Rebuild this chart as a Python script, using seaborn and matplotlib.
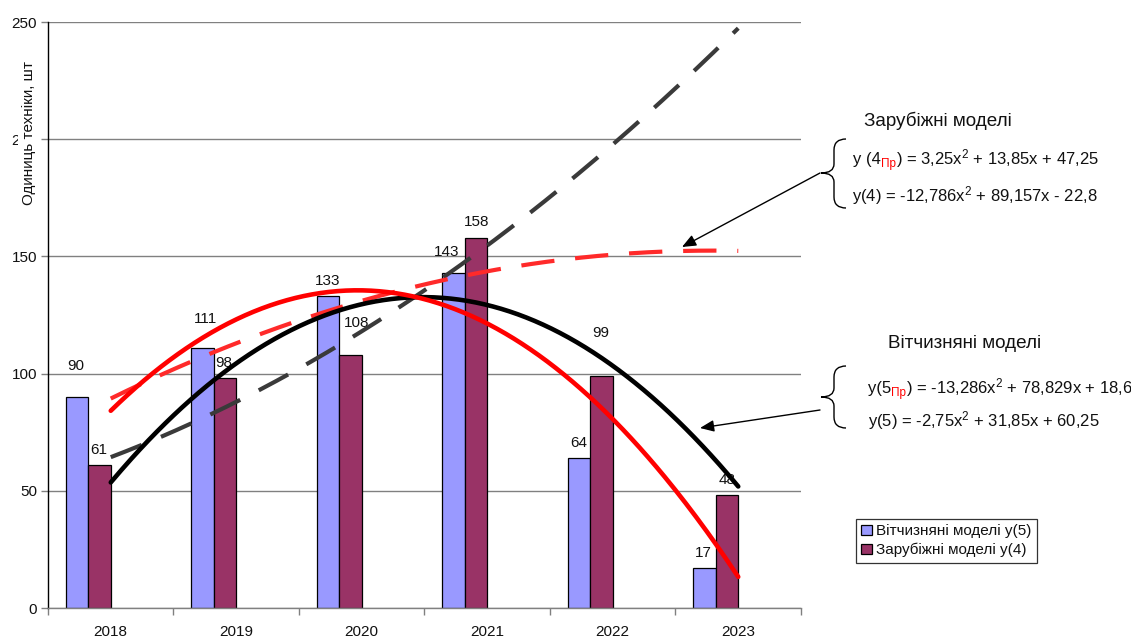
import numpy as np
import pandas as pd
import matplotlib
matplotlib.use("Agg")
import matplotlib.pyplot as plt
from matplotlib.path import Path
from matplotlib.patches import PathPatch, Patch
import seaborn as sns

# ---- data -------------------------------------------------------------
years = ["2018", "2019", "2020", "2021", "2022", "2023"]
domestic = [90, 111, 133, 143, 64, 17]      # Вітчизняні моделі y(5)
foreign = [61, 98, 108, 158, 99, 48]        # Зарубіжні моделі y(4)

# quadratic trend coefficients [a, b, c] of y = a*x^2 + b*x + c, x = 1..6
coef_4pr = [3.25, 13.85, 47.25]
coef_4 = [-12.786, 89.157, -22.8]
coef_5pr = [-13.286, 78.829, 18.6]
coef_5 = [-2.75, 31.85, 60.25]

lab_dom = "Вітчизняні моделі y(5)"
lab_for = "Зарубіжні моделі y(4)"

# ---- style ------------------------------------------------------------
sns.set_theme(style="white")
plt.rcParams["font.family"] = ["Liberation Sans", "DejaVu Sans"]
plt.rcParams["mathtext.fontset"] = "custom"
plt.rcParams["mathtext.rm"] = "Liberation Sans"
plt.rcParams["mathtext.it"] = "Liberation Sans"
plt.rcParams["mathtext.bf"] = "Liberation Sans"

W, H = 1131, 639
C_DOM = "#9999FF"
C_FOR = "#993366"
GRID = "#808080"
TXT = "#111111"

fig = plt.figure(figsize=(W / 100, H / 100), dpi=100)
fig.patch.set_facecolor("white")
ax = fig.add_axes([48 / W, 1 - 608 / H, (801 - 48) / W, (608 - 22) / H])
ax.set_facecolor("white")

# ---- bars (two spare slots keep the Excel-like group layout) ----------
df = pd.DataFrame({
    "year": years * 2,
    "value": domestic + foreign,
    "series": [lab_dom] * len(years) + [lab_for] * len(years),
})
hue_levels = [lab_dom, lab_for, "spare_a", "spare_b"]
sns.barplot(data=df, x="year", y="value", hue="series", order=years,
            hue_order=hue_levels,
            palette={lab_dom: C_DOM, lab_for: C_FOR,
                     "spare_a": "white", "spare_b": "white"},
            width=0.72, edgecolor="black", linewidth=0.9, saturation=1,
            errorbar=None, legend=False, ax=ax, zorder=2)

# ---- value labels -----------------------------------------------------
# per-bar label shift in pixels (dx, dy upward) from the top of each bar
shift_dom = [(-1, 31), (3, 29), (0, 15), (-7, 21), (0, 15), (-1, 15)]
shift_for = [(-1, 15), (-1, 15), (6, 32), (1, 16), (-1, 43), (0, 15)]
for bar in ax.patches:
    h = bar.get_height()
    if not np.isfinite(h) or h <= 0:
        continue
    xc = bar.get_x() + bar.get_width() / 2
    i = int(round(xc))
    dx, dy = (shift_dom if xc - i < -0.18 else shift_for)[i]
    ax.annotate(f"{h:.0f}", xy=(xc, h), xytext=(dx * 0.72, dy * 0.72),
                textcoords="offset points", ha="center", va="center",
                fontsize=11, color=TXT, zorder=3)

# ---- polynomial trend lines ------------------------------------------
t = np.linspace(1, 6, 300)
dash = (0, (8, 5))
sns.lineplot(x=t - 1, y=np.polyval(coef_4pr, t), ax=ax, color="#3a3a3a",
             linewidth=3, linestyle=dash, estimator=None, sort=False,
             zorder=4, dash_capstyle="butt")
sns.lineplot(x=t - 1, y=np.polyval(coef_5, t), ax=ax, color="#ff2a2a",
             linewidth=3, linestyle=dash, estimator=None, sort=False,
             zorder=4, dash_capstyle="butt")
sns.lineplot(x=t - 1, y=np.polyval(coef_4, t), ax=ax, color="black",
             linewidth=3.3, estimator=None, sort=False, zorder=5,
             solid_capstyle="round")
sns.lineplot(x=t - 1, y=np.polyval(coef_5pr, t), ax=ax, color="#ff0000",
             linewidth=3.3, estimator=None, sort=False, zorder=6,
             solid_capstyle="round")

# ---- axes -------------------------------------------------------------
ax.set_xlim(-0.5, len(years) - 0.5)
ax.set_ylim(0, 250)
ax.set_yticks([0, 50, 100, 150, 200, 250])
ax.set_yticklabels(["0", "50", "100", "150", "200", "250"])
ax.yaxis.grid(True, color=GRID, linewidth=1.0)
ax.xaxis.grid(False)
ax.set_axisbelow(True)
ax.set_xticks(np.arange(-0.5, len(years), 1.0))
ax.set_xticklabels([""] * (len(years) + 1))
ax.set_xticks(np.arange(len(years)), minor=True)
ax.set_xticklabels(years, minor=True)
ax.tick_params(axis="x", which="major", direction="out", length=5,
               width=1, color=GRID, bottom=True)
ax.tick_params(axis="x", which="minor", length=0, pad=12, labelsize=11,
               labelcolor=TXT)
ax.tick_params(axis="y", direction="out", length=5, width=1, color=GRID,
               left=True, pad=3, labelsize=11, labelcolor=TXT)
ax.set_xlabel("")
ax.set_ylabel("")
for s in ("top", "right"):
    ax.spines[s].set_visible(False)
ax.spines["left"].set_color("black")
ax.spines["left"].set_linewidth(1)
ax.spines["bottom"].set_color(GRID)
ax.spines["bottom"].set_linewidth(1)

# axis title sits on a white box that hides most of the "200" tick label
fig.text(29 / W, 1 - 133 / H, "Одиниць техніки, шт", rotation=90,
         ha="center", va="center", fontsize=11, color=TXT,
         bbox=dict(facecolor="white", edgecolor="none", pad=3.2))


# ---- equation blocks --------------------------------------------------
def fx(px):
    return px / W


def fy(py):
    return 1 - py / H


def rich_line(x_px, base_px, pieces):
    """Draw text pieces one after another on a shared baseline."""
    prev = None
    for txt, color, size, dy in pieces:
        y = fy(base_px + dy)
        if prev is None:
            prev = fig.text(fx(x_px), y, txt, color=color, fontsize=size,
                            ha="left", va="baseline")
        else:
            prev = ax.annotate(txt, xy=(1, y),
                               xycoords=(prev, "figure fraction"),
                               color=color, fontsize=size, ha="left",
                               va="baseline", annotation_clip=False)
    return prev


EQ = 12
SUB = 8.5
HEAD = 13.6
fig.text(fx(938), fy(121), "Зарубіжні моделі", ha="center", va="center",
         fontsize=HEAD, color=TXT)
rich_line(853, 164, [("y (4", TXT, EQ, 0), ("Пр", "red", SUB, 3),
                     (") = 3,25x$^2$ + 13,85x + 47,25", TXT, EQ, 0)])
rich_line(852, 201, [("y(4) = -12,786x$^2$ + 89,157x - 22,8", TXT, EQ, 0)])

fig.text(fx(965), fy(343), "Вітчизняні моделі", ha="center", va="center",
         fontsize=HEAD, color=TXT)
rich_line(868, 393, [("y(5", TXT, EQ, 0), ("Пр", "red", SUB, 3),
                     (") = -13,286x$^2$ + 78,829x + 18,6", TXT, EQ, 0)])
rich_line(868, 426, [("y(5) = -2,75x$^2$ + 31,85x + 60,25", TXT, EQ, 0)])


def brace(top, mid, bot, x_tip=821, x_bar=834, x_end=846):
    pts = [(x_end, top), (x_bar, top), (x_bar, top + 11),
           (x_bar, mid - 9),
           (x_bar, mid), (x_tip, mid),
           (x_bar, mid), (x_bar, mid + 9),
           (x_bar, bot - 11),
           (x_bar, bot), (x_end, bot)]
    codes = [Path.MOVETO, Path.CURVE3, Path.CURVE3, Path.LINETO,
             Path.CURVE3, Path.CURVE3, Path.CURVE3, Path.CURVE3,
             Path.LINETO, Path.CURVE3, Path.CURVE3]
    verts = [(fx(x), fy(y)) for x, y in pts]
    fig.add_artist(PathPatch(Path(verts, codes), transform=fig.transFigure,
                             fill=False, edgecolor="black", linewidth=1))


brace(139, 173, 208)
brace(366, 397, 428)

arrow = dict(arrowstyle="-|>,head_length=0.6,head_width=0.25",
             color="black", lw=1, mutation_scale=14, shrinkA=0, shrinkB=0)
ax.annotate("", xy=(fx(682), fy(247)), xycoords="figure fraction",
            xytext=(fx(820), fy(173)), textcoords="figure fraction",
            arrowprops=arrow, annotation_clip=False)
ax.annotate("", xy=(fx(700), fy(428)), xycoords="figure fraction",
            xytext=(fx(820), fy(410)), textcoords="figure fraction",
            arrowprops=arrow, annotation_clip=False)

# ---- legend -----------------------------------------------------------
handles = [Patch(facecolor=C_DOM, edgecolor="black", linewidth=0.9),
           Patch(facecolor=C_FOR, edgecolor="black", linewidth=0.9)]
leg = fig.legend(handles, [lab_dom, lab_for], loc="upper left",
                 bbox_to_anchor=(fx(856), fy(519)), fontsize=11,
                 frameon=True, fancybox=False, shadow=False,
                 handlelength=0.7, handleheight=0.7, handletextpad=0.25,
                 borderpad=0.35, labelspacing=0.3, borderaxespad=0)
leg.get_frame().set_edgecolor("black")
leg.get_frame().set_linewidth(0.9)
for txt in leg.get_texts():
    txt.set_color(TXT)

fig.savefig("out.png", dpi=100, facecolor="white")
